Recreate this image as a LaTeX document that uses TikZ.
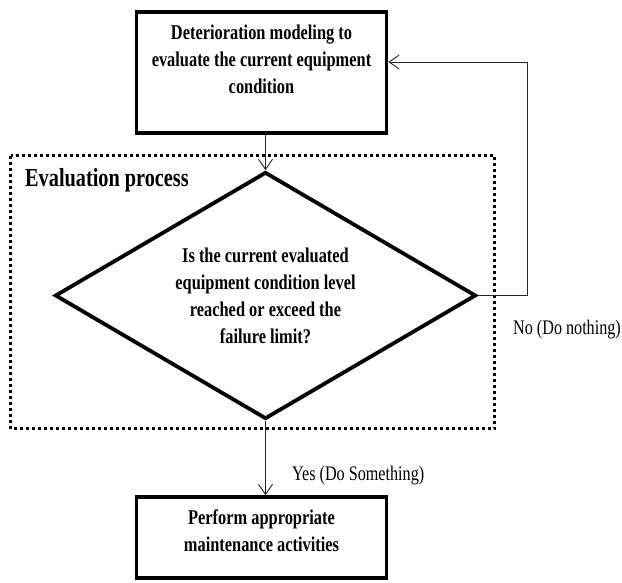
\documentclass[tikz,border=0pt]{standalone}
\usepackage{fontspec}
\setmainfont{Liberation Serif}[FakeStretch=0.78]
\usetikzlibrary{
    positioning,
    arrows.meta,
    shapes.geometric
}

\begin{document}
\begin{tikzpicture}[x=1pt, y=-1pt, >={Straight Barb[length=10pt,width=14pt]},
        procbox/.style={draw, line width=3.8pt, inner sep=0pt},
        decision/.style={draw, diamond, line width=3.8pt, inner sep=0pt, aspect=1.7,
            minimum width=421pt, minimum height=247pt, align=center,
            font=\fontsize{21}{27}\selectfont\bfseries},
        flow/.style={line width=0.9pt, black!85},
        lbl/.style={font=\fontsize{20.7}{24}\selectfont, inner sep=0pt}]
            \useasboundingbox (0,0) rectangle (622,582);

            % boxes
            \node[procbox] (model) at (261.5,72.5) {\parbox[c][121pt][t]{250pt}{\centering
                \fontsize{21}{27}\selectfont\bfseries\vspace*{9pt}\strut
                Deterioration modeling to\\ evaluate the current equipment\\ condition}};
            \node[decision] (cond) at (265.5,295.5) {Is the current evaluated\\ equipment condition level\\
                reached or exceed the\\ failure limit?};
            \node[procbox] (act) at (261.5,537.5) {\parbox[c][81pt][t]{250pt}{\centering
                \fontsize{21}{27}\selectfont\bfseries\vspace*{9pt}\strut
                Perform appropriate\\ maintenance activities}};

            % evaluation frame
            \draw[line width=3pt, dash pattern=on 3pt off 3pt] (10.5,155.5) rectangle (494.5,428.5);
            \node[anchor=west, inner sep=0pt, font=\fontsize{26}{30}\selectfont\bfseries] (evaltitle) at (25,180) {Evaluation process};

            % connectors
            \coordinate (back) at (527,62);
            \draw[flow, ->] (cond.north |- model.south) -- (cond.north);
            \draw[flow, ->] (cond.south) -- (cond.south |- act.north);
            \draw[flow, ->] (cond.east) -| (back) -- (model.east |- back);

            \node[lbl, anchor=west] (nolbl) at (513,330) {No (Do nothing)};
            \node[lbl, anchor=west] (yeslbl) at (292,476) {Yes (Do Something)};
        \end{tikzpicture}
\end{document}
